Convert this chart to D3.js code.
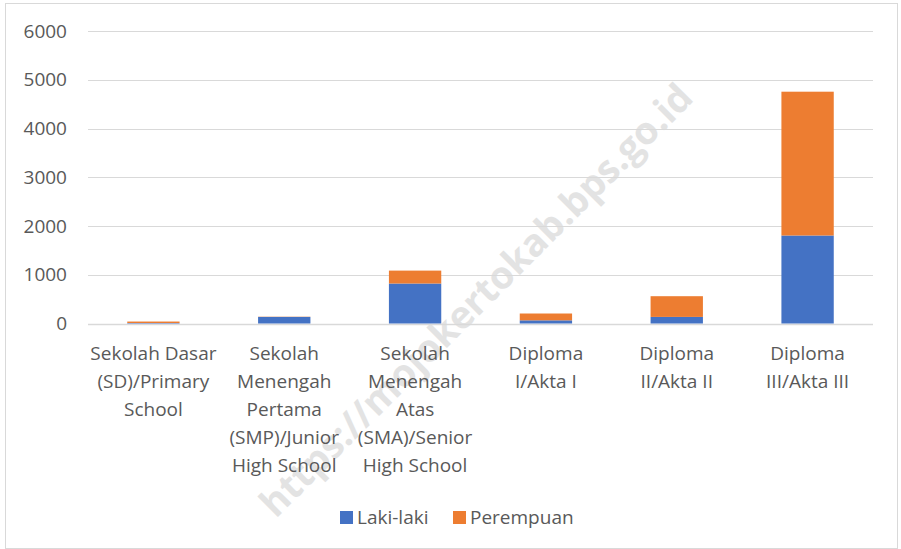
<!DOCTYPE html>
<html>
<head>
<meta charset="utf-8">
<script src="https://cdn.jsdelivr.net/npm/d3@7"></script>
<style>
  body { margin: 0; background: #fff; }
  text { font-family: "Open Sans", "Noto Sans", sans-serif; fill: #595959; }
</style>
</head>
<body>
<div id="chart"></div>
<script>
// Education levels (line breaks as in the picture)
const categories = [
  "Sekolah Dasar\n(SD)/Primary\nSchool",
  "Sekolah\nMenengah\nPertama\n(SMP)/Junior\nHigh School",
  "Sekolah\nMenengah\nAtas\n(SMA)/Senior\nHigh School",
  "Diploma\nI/Akta I",
  "Diploma\nII/Akta II",
  "Diploma\nIII/Akta III"
];
const lakiLaki = [10, 135, 820, 65, 135, 1805];
const perempuan = [30, 5, 265, 140, 425, 2950];
const seriesNames = ["Laki-laki", "Perempuan"];
const yTicks = [0, 1000, 2000, 3000, 4000, 5000, 6000];

const width = 901, height = 549;
const margin = { top: 31, right: 28, bottom: 225, left: 88 };
const colors = ["#4472c4", "#ed7d31"];

const svg = d3.select('#chart')
  .append('svg')
    .attr('width', width)
    .attr('height', height);

// chart border
svg.append('rect')
    .attr('x', 5.5)
    .attr('y', 3.5)
    .attr('width', width - 9)
    .attr('height', height - 4)
    .attr('fill', 'none')
    .attr('stroke', '#d9d9d9');

// watermark, sits behind everything
svg.append('text')
    .attr('transform', 'translate(476, 300) rotate(-45)')
    .attr('text-anchor', 'middle')
    .attr('dy', '0.35em')
    .style('font-size', '38px')
    .style('font-weight', 'bold')
    .style('fill', '#e3e3e3')
    .text('https://mojokertokab.bps.go.id');

const x = d3.scaleBand()
    .domain(d3.range(categories.length))
    .range([margin.left, width - margin.right])
    .paddingInner(0.6)
    .paddingOuter(0.3);

const y = d3.scaleLinear()
    .domain([0, 6000])
    .range([height - margin.bottom - 0.5, margin.top]);

// gridlines
svg.append('g')
  .selectAll('line')
  .data(yTicks)
  .join('line')
    .attr('x1', margin.left)
    .attr('x2', width - margin.right)
    .attr('y1', d => Math.round(y(d)) + 0.5)
    .attr('y2', d => Math.round(y(d)) + 0.5)
    .attr('stroke', '#d9d9d9')
    .attr('stroke-width', d => d === 0 ? 1.5 : 1);

// y tick labels
svg.append('g')
  .selectAll('text')
  .data(yTicks)
  .join('text')
    .attr('x', 67)
    .attr('y', d => y(d))
    .attr('dy', '0.35em')
    .attr('text-anchor', 'end')
    .style('font-size', '19px')
    .text(d => d);

// stacked bars
const rows = categories.map((c, i) => ({ i, laki: lakiLaki[i], per: perempuan[i] }));
const stack = d3.stack().keys(['laki', 'per'])(rows);

svg.append('g')
  .selectAll('g')
  .data(stack)
  .join('g')
    .attr('fill', (d, k) => colors[k])
  .selectAll('rect')
  .data(d => d)
  .join('rect')
    .attr('x', d => x(d.data.i))
    .attr('width', x.bandwidth())
    .attr('y', d => y(d[1]))
    .attr('height', d => y(d[0]) - y(d[1]));

// category labels
const catLabels = svg.append('g')
  .selectAll('text')
  .data(categories)
  .join('text')
    .attr('text-anchor', 'middle')
    .style('font-size', '19px');

catLabels.selectAll('tspan')
  .data((d, i) => d.split('\n').map(line => ({ line, i })))
  .join('tspan')
    .attr('x', d => x(d.i) + x.bandwidth() / 2)
    .attr('y', (d, j) => 360 + j * 28)
    .text(d => d.line);

// legend
const legend = svg.append('g')
  .selectAll('g')
  .data(seriesNames)
  .join('g')
    .attr('transform', (d, i) => `translate(${i === 0 ? 340 : 453}, 511)`);

legend.append('rect')
    .attr('width', 13)
    .attr('height', 13)
    .attr('fill', (d, i) => colors[i]);

legend.append('text')
    .attr('x', 17)
    .attr('y', 6.5)
    .attr('dy', '0.35em')
    .style('font-size', '19px')
    .text(d => d);
</script>
</body>
</html>
